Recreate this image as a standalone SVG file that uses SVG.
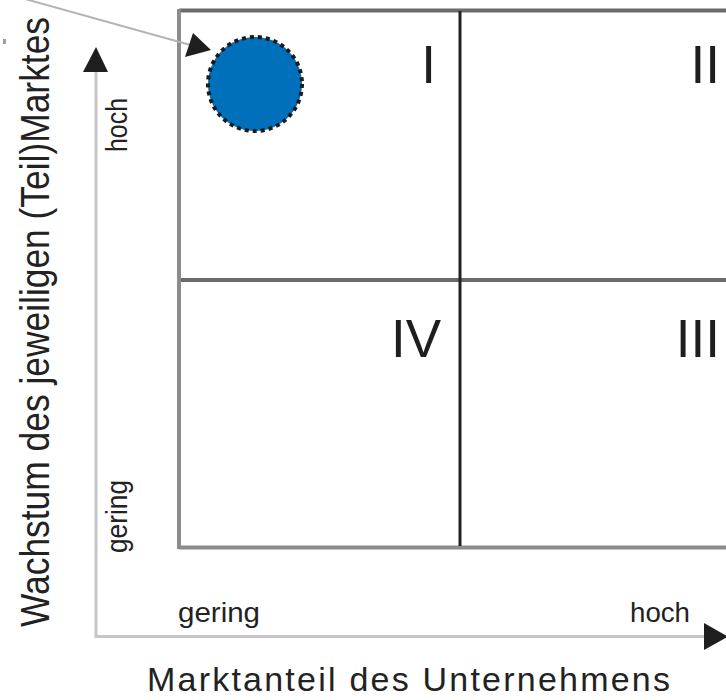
<svg xmlns="http://www.w3.org/2000/svg" width="726" height="700" viewBox="0 0 726 700">
<style>
  .t { font-family: "Liberation Sans", Arial, sans-serif; fill: #222; }
  .num { font-family: "Liberation Sans", Arial, sans-serif; fill: #1e1e1e; font-size: 53px; text-anchor: end; }
  .axis { stroke: #c6c6c6; stroke-width: 3; fill: none; }
  .head { fill: #1e1e1e; }
</style>
<rect width="726" height="700" fill="#ffffff"/>

<g id="matrix">
  <line x1="179" y1="10.5" x2="740" y2="10.5" stroke="#6a6a6a" stroke-width="4"/>
  <line x1="179" y1="280" x2="740" y2="280" stroke="#6a6a6a" stroke-width="4"/>
  <line x1="179" y1="547.5" x2="740" y2="547.5" stroke="#8c8c8c" stroke-width="4"/>
  <line x1="179" y1="9" x2="179" y2="549" stroke="#8c8c8c" stroke-width="4"/>
  <line x1="460" y1="11" x2="460" y2="546" stroke="#222" stroke-width="3"/>
</g>

<g id="quadrant-I"><text class="num" x="436" y="83">I</text></g>
<g id="quadrant-II"><text class="num" x="720" y="83">II</text></g>
<g id="quadrant-IV"><text class="num" x="441" y="357">IV</text></g>
<g id="quadrant-III"><text class="num" x="720" y="357">III</text></g>

<g id="position">
  <circle cx="255" cy="84" r="47" fill="#0070ba" stroke="#1a1a1a" stroke-width="4" stroke-dasharray="4 4"/>
</g>

<g id="connectors">
  <line x1="0" y1="-8" x2="194" y2="46" stroke="#b4b4b4" stroke-width="2"/>
  <polygon class="head" points="211,50 193,33 185,57"/>
  <line class="axis" x1="96" y1="70" x2="96" y2="636.5"/>
  <line class="axis" x1="94.5" y1="636.5" x2="706" y2="636.5"/>
  <polygon class="head" points="96,47 83,72 108,72"/>
  <polygon class="head" points="728,636.5 704,623 704,650"/>
</g>

<rect x="3" y="39" width="3" height="5" fill="#a0a0a0"/>

<g id="labels">
  <text class="t" font-size="36" textLength="610" lengthAdjust="spacingAndGlyphs" transform="translate(49,627) scale(1.15,1) rotate(-90)">Wachstum des jeweiligen (Teil)Marktes</text>
  <text class="t" font-size="25" textLength="54" lengthAdjust="spacingAndGlyphs" transform="translate(127,152) scale(1.2,1) rotate(-90)">hoch</text>
  <text class="t" font-size="25" textLength="73" lengthAdjust="spacingAndGlyphs" transform="translate(127,553) scale(1.2,1) rotate(-90)">gering</text>
  <text class="t" x="178" y="622" font-size="28" textLength="82" lengthAdjust="spacingAndGlyphs">gering</text>
  <text class="t" x="630" y="622" font-size="27" textLength="60" lengthAdjust="spacingAndGlyphs">hoch</text>
  <text class="t" x="147" y="691" font-size="34" textLength="523" lengthAdjust="spacing">Marktanteil des Unternehmens</text>
</g>
</svg>
